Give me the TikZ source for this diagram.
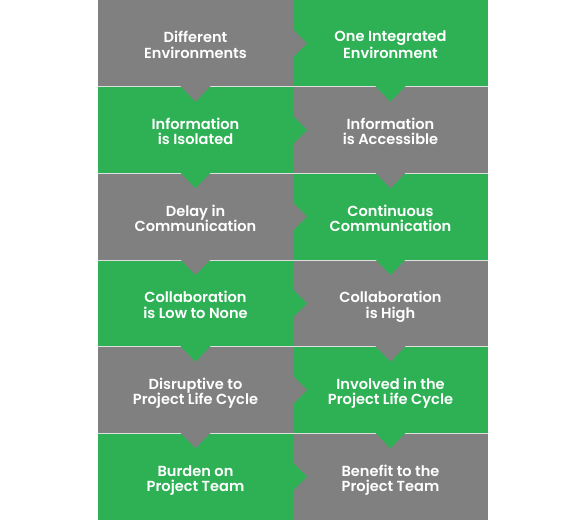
\documentclass[tikz,border=0pt]{standalone}
\usepackage{fontspec}
\setmainfont{Poppins}[UprightFont=* SemiBold]
\usepackage{xcolor}
\usepackage{tikz}
\usetikzlibrary{positioning,calc}

\definecolor{boxgray}{HTML}{808080}
\definecolor{boxgreen}{HTML}{2EB155}

\begin{document}
\begin{tikzpicture}[
    cell/.style={minimum width=3.9cm,minimum height=1.7333cm,inner sep=0pt,outer sep=0pt,
      text=white,align=center,font=\fontsize{8.3}{8.7}\selectfont,
      text height=18pt,text depth=1pt},
    graycell/.style={cell,fill=boxgray},
    greencell/.style={cell,fill=boxgreen},
    rowline/.style={draw=gray!25,line width=0.5pt}]
  \useasboundingbox (0,0) rectangle (11.7,-10.4);
  % left column
  \node[graycell] (l1) at (3.91,-0.8667) {Different\\Environments};
  \node[greencell,below=0pt of l1] (l2) {Information\\is Isolated};
  \node[graycell,below=0pt of l2] (l3) {Delay in\\Communication};
  \node[greencell,below=0pt of l3] (l4) {Collaboration\\is Low to None};
  \node[graycell,below=0pt of l4] (l5) {Disruptive to\\Project Life Cycle};
  \node[greencell,below=0pt of l5] (l6) {Burden on\\Project Team};
  % right column
  \node[greencell,right=0pt of l1] (r1) {One Integrated\\Environment};
  \node[graycell,right=0pt of l2] (r2) {Information\\is Accessible};
  \node[greencell,right=0pt of l3] (r3) {Continuous\\Communication};
  \node[graycell,right=0pt of l4] (r4) {Collaboration\\is High};
  \node[greencell,right=0pt of l5] (r5) {Involved in the\\Project Life Cycle};
  \node[graycell,right=0pt of l6] (r6) {Benefit to the\\Project Team};
  % thin lines between the rows
  \foreach \i in {1,...,5}
    \draw[rowline] (l\i.south west) -- (r\i.south east);
  % pointers down into the next row
  \foreach \i/\c in {1/boxgray,2/boxgreen,3/boxgray,4/boxgreen,5/boxgray}{
    \fill[\c] ($(l\i.south)+(-0.31,0.02)$) -- ++(0.31,-0.32) -- ++(0.31,0.32) -- cycle;
  }
  \foreach \i/\c in {1/boxgreen,2/boxgray,3/boxgreen,4/boxgray,5/boxgreen}{
    \fill[\c] ($(r\i.south)+(-0.31,0.02)$) -- ++(0.31,-0.32) -- ++(0.31,0.32) -- cycle;
  }
  % pointers across into the right column
  \foreach \i/\c in {1/boxgray,2/boxgreen,3/boxgray,4/boxgreen,5/boxgray,6/boxgreen}{
    \fill[\c] ($(l\i.east)+(-0.02,0.3)$) -- ++(0.3,-0.3) -- ++(-0.3,-0.3) -- cycle;
  }
\end{tikzpicture}
\end{document}
